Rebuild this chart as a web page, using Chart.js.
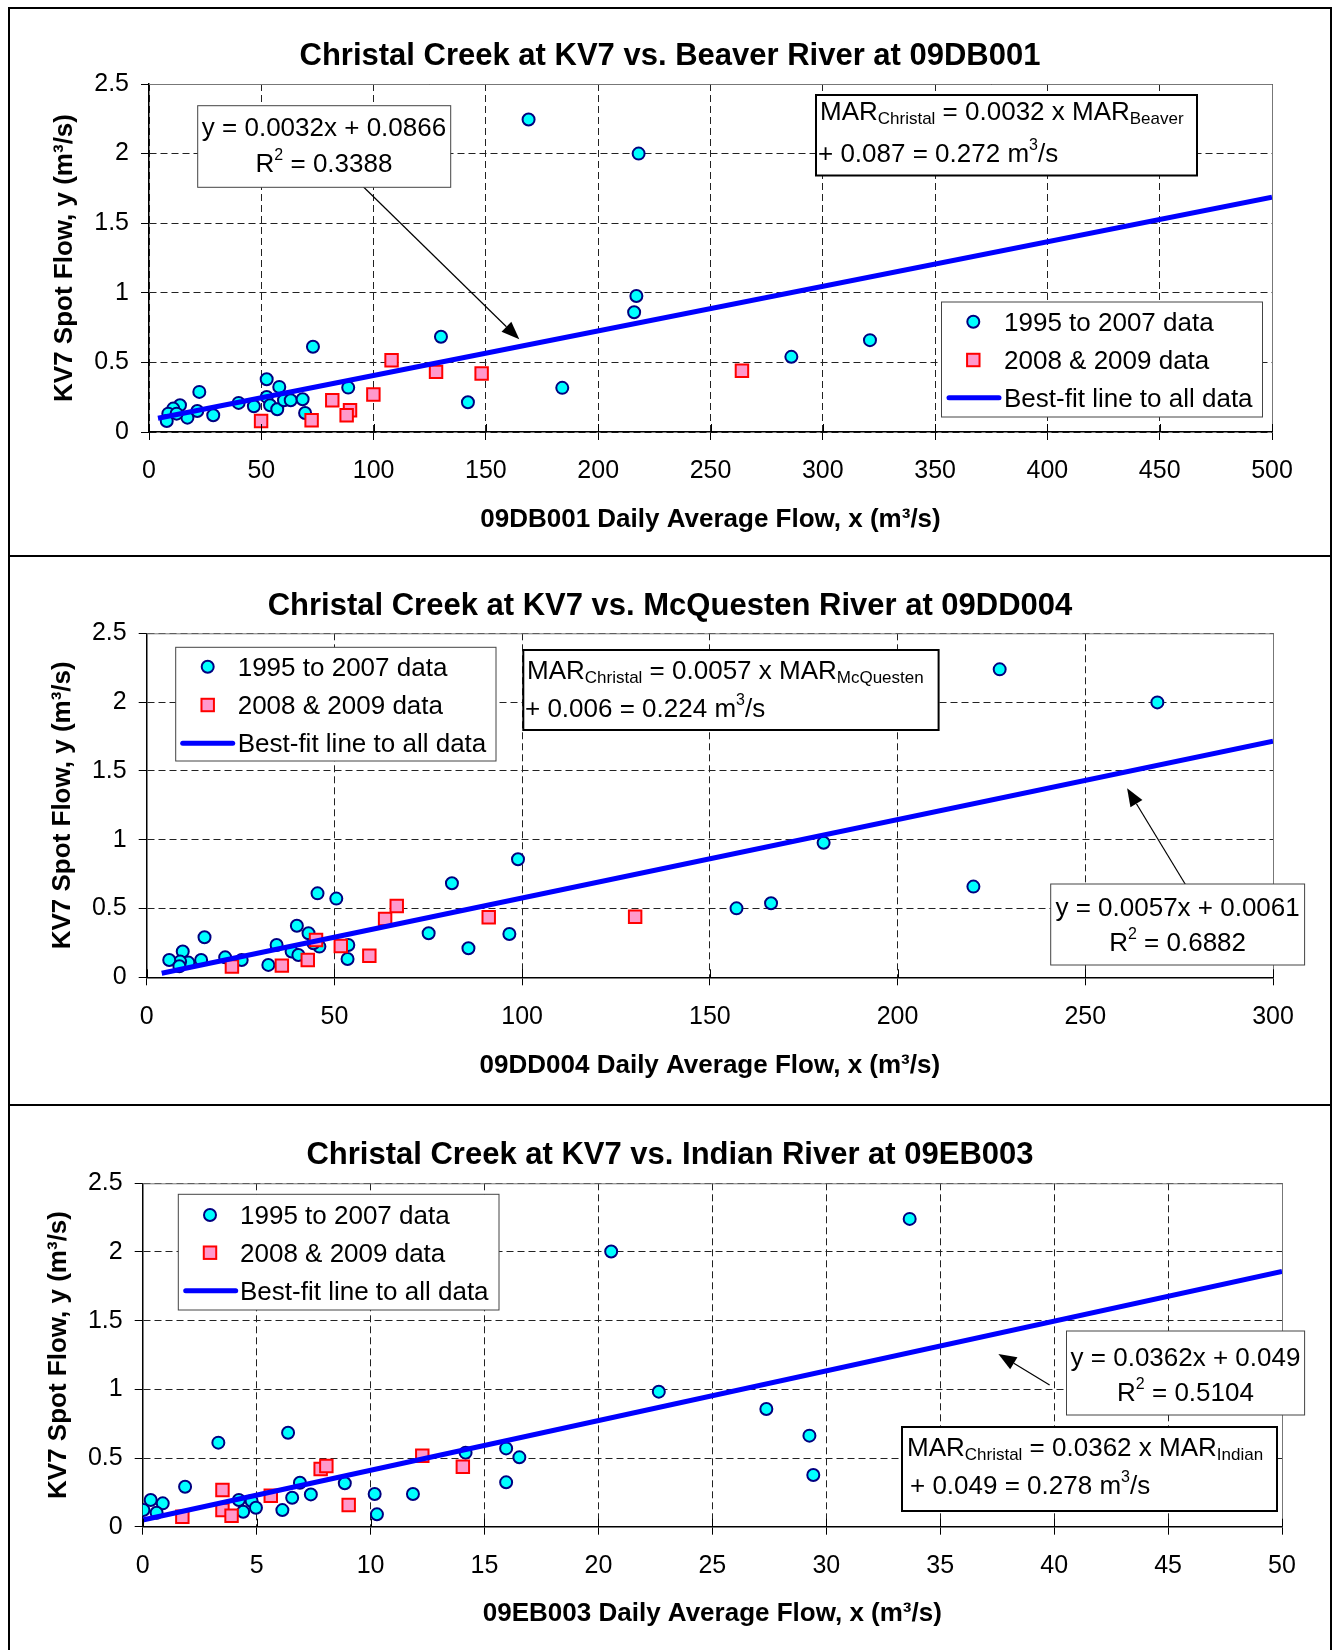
<!DOCTYPE html>
<html lang="en">
<head>
    <meta charset="UTF-8">
    <title>Christal Creek at KV7 - regional flow regressions</title>
    <script src="https://cdn.jsdelivr.net/npm/chart.js"></script>
    <style>
        body { margin: 0; background: #fff; }
        #frame { position: absolute; left: 8px; top: 7px; width: 1320px; height: 1650px;
                 border: 2px solid #000; border-bottom: none; }
        .sep { position: absolute; left: 8px; width: 1324px; height: 2px; background: #000; }
        canvas { position: absolute; left: 10px; }
    </style>
</head>
<body>
<div id="frame"></div>
<div class="sep" style="top:555px"></div>
<div class="sep" style="top:1104px"></div>

<canvas id="beaverChart" width="1320" height="546" style="top:9px"></canvas>
<canvas id="mcqChart" width="1320" height="547" style="top:557px"></canvas>
<canvas id="indianChart" width="1320" height="544" style="top:1106px"></canvas>

<script>
    // ---- data ----
    const seriesLabels = ['1995 to 2007 data', '2008 & 2009 data', 'Best-fit line to all data'];
    const yTicks = [0, 0.5, 1, 1.5, 2, 2.5];

    // Beaver River at 09DB001
    const beaverTicksX = [0, 50, 100, 150, 200, 250, 300, 350, 400, 450, 500];
    const beaverOldX = [169, 218, 217, 216, 286, 321, 184, 142, 130, 73, 22.4, 52.4, 58, 88.7, 39.9, 46.7,
        52.4, 53.9, 57.1, 60.1, 63.1, 68.4, 69.5, 28.6, 21.5, 17.1, 13.8, 10.8, 8.6, 7.9, 12.3];
    const beaverOldY = [2.245, 2.0, 0.977, 0.86, 0.54, 0.66, 0.317, 0.214, 0.684, 0.612, 0.288, 0.379, 0.324, 0.319, 0.209, 0.185,
        0.252, 0.192, 0.163, 0.228, 0.228, 0.235, 0.137, 0.12, 0.151, 0.103, 0.192, 0.168, 0.132, 0.079, 0.132];
    const beaverNewX = [49.9, 72.4, 81.6, 89.5, 88, 99.9, 108, 127.8, 148.1, 264];
    const beaverNewY = [0.079, 0.084, 0.228, 0.156, 0.12, 0.269, 0.516, 0.432, 0.42, 0.44];
    const beaverFitX = [4, 500];
    const beaverFitY = [0.099, 1.687];

    // McQuesten River at 09DD004
    const mcqTicksX = [0, 50, 100, 150, 200, 250, 300];
    const mcqOldX = [98.9, 81.3, 45.5, 50.5, 15.4, 40, 43.1, 75.1, 96.6, 85.7, 53.7, 53.5, 46, 44.4, 38.6, 40.4,
        34.6, 32.4, 25.3, 20.9, 14.5, 9.6, 11.1, 8.9, 6, 8.7, 227.2, 269.2, 180.3, 220.2, 157.1, 166.3];
    const mcqOldY = [0.858, 0.683, 0.61, 0.572, 0.291, 0.375, 0.32, 0.32, 0.315, 0.211, 0.235, 0.133, 0.223, 0.247, 0.187, 0.162,
        0.235, 0.09, 0.126, 0.145, 0.126, 0.187, 0.107, 0.114, 0.126, 0.08, 2.238, 1.998, 0.978, 0.659, 0.501, 0.538];
    const mcqNewX = [22.7, 36, 42.9, 45.1, 51.7, 59.3, 63.5, 66.6, 91.1, 130.1];
    const mcqNewY = [0.078, 0.085, 0.126, 0.271, 0.228, 0.157, 0.424, 0.518, 0.436, 0.44];
    const mcqFitX = [4, 300];
    const mcqFitY = [0.029, 1.716];

    // Indian River at 09EB003
    const indianTicksX = [0, 5, 10, 15, 20, 25, 30, 35, 40, 45, 50];
    const indianOldX = [6.38, 3.32, 1.86, 0.03, 0.35, 0.88, 0.61, 4.22, 4.41, 4.78, 4.97, 6.13, 6.56, 6.9, 7.38,
        8.87, 10.18, 10.28, 11.86, 14.17, 15.95, 15.95, 16.53, 20.56, 33.66, 22.65, 27.37, 29.26, 29.43];
    const indianOldY = [0.684, 0.612, 0.291, 0.121, 0.194, 0.17, 0.102, 0.194, 0.109, 0.187, 0.138, 0.121, 0.211, 0.32, 0.235,
        0.316, 0.238, 0.09, 0.238, 0.539, 0.57, 0.323, 0.505, 2.003, 2.241, 0.983, 0.857, 0.663, 0.376];
    const indianNewX = [1.74, 3.5, 3.5, 3.9, 5.62, 7.81, 8.06, 9.04, 12.27, 14.05];
    const indianNewY = [0.073, 0.267, 0.121, 0.08, 0.226, 0.42, 0.442, 0.158, 0.517, 0.437];
    const indianFitX = [0, 50];
    const indianFitY = [0.049, 1.859];

    // ---- drawing helpers ----
    const FONT = '"Liberation Sans", Arial, Helvetica, sans-serif';
    const sub = t => ({t: t, k: 'sub'});
    const sup = t => ({t: t, k: 'sup'});

    // text with sub/superscripts, y is the baseline
    function drawParts(ctx, parts, x, y, align) {
        const fonts = {n: '26px ' + FONT, sub: '17px ' + FONT, sup: '16px ' + FONT};
        const shift = {n: 0, sub: 4, sup: -12};
        const items = parts.map(p => typeof p === 'string' ? {t: p, k: 'n'} : p);
        let w = 0;
        items.forEach(it => { ctx.font = fonts[it.k]; it.w = ctx.measureText(it.t).width; w += it.w; });
        let cx = align === 'center' ? x - w / 2 : x;
        ctx.fillStyle = '#000';
        ctx.textAlign = 'left';
        ctx.textBaseline = 'alphabetic';
        items.forEach(it => {
            ctx.font = fonts[it.k];
            ctx.fillText(it.t, cx, y + shift[it.k]);
            cx += it.w;
        });
    }

    function drawBox(ctx, b, color, lw) {
        ctx.fillStyle = '#fff';
        ctx.fillRect(b[0], b[1], b[2] - b[0], b[3] - b[1]);
        ctx.strokeStyle = color;
        ctx.lineWidth = lw;
        ctx.strokeRect(b[0], b[1], b[2] - b[0], b[3] - b[1]);
    }

    function drawArrow(ctx, from, to) {
        const ang = Math.atan2(to[1] - from[1], to[0] - from[0]);
        const len = 18, half = 7;
        const bx = to[0] - len * Math.cos(ang), by = to[1] - len * Math.sin(ang);
        ctx.strokeStyle = '#000';
        ctx.lineWidth = 1.2;
        ctx.beginPath();
        ctx.moveTo(from[0], from[1]);
        ctx.lineTo(bx, by);
        ctx.stroke();
        ctx.fillStyle = '#000';
        ctx.beginPath();
        ctx.moveTo(to[0], to[1]);
        ctx.lineTo(bx + half * Math.sin(ang), by - half * Math.cos(ang));
        ctx.lineTo(bx - half * Math.sin(ang), by + half * Math.cos(ang));
        ctx.closePath();
        ctx.fill();
    }

    // plot frame, inner ticks, legend and the text boxes
    const annotations = {
        id: 'kv7Notes',
        afterDatasetsDraw(chart, args, opts) {
            const ctx = chart.ctx;
            const a = chart.chartArea;
            ctx.save();

            ctx.strokeStyle = '#777';
            ctx.lineWidth = 1;
            ctx.beginPath();
            ctx.moveTo(a.left, a.top + 0.5);
            ctx.lineTo(a.right + 0.5, a.top + 0.5);
            ctx.lineTo(a.right + 0.5, a.bottom);
            ctx.stroke();

            ctx.strokeStyle = '#000';
            ctx.beginPath();
            chart.scales.x.ticks.forEach(t => {
                const px = Math.round(chart.scales.x.getPixelForValue(t.value)) + 0.5;
                ctx.moveTo(px, a.bottom);
                ctx.lineTo(px, a.bottom - 8);
            });
            ctx.stroke();

            if (opts.arrow) drawArrow(ctx, opts.arrow.from, opts.arrow.to);

            const eq = opts.eq;
            drawBox(ctx, eq.box, '#444', 1);
            eq.lines.forEach((ln, i) => drawParts(ctx, ln, eq.cx, eq.base[i], 'center'));

            const mar = opts.mar;
            drawBox(ctx, mar.box, '#000', 2);
            mar.lines.forEach((ln, i) => drawParts(ctx, ln, mar.x[i], mar.base[i], 'left'));

            const lg = opts.legend;
            drawBox(ctx, lg.box, '#444', 1);
            const ds = chart.data.datasets;
            lg.base.forEach((b, i) => {
                const cy = b - 9;
                const d = ds[i];
                ctx.lineWidth = d.borderWidth;
                ctx.strokeStyle = d.borderColor;
                ctx.fillStyle = d.backgroundColor;
                if (i === 0) {
                    ctx.beginPath();
                    ctx.arc(lg.symX, cy, d.pointRadius, 0, Math.PI * 2);
                    ctx.fill();
                    ctx.stroke();
                } else if (i === 1) {
                    const s = d.pointRadius * Math.SQRT1_2;
                    ctx.fillRect(lg.symX - s, cy - s, 2 * s, 2 * s);
                    ctx.strokeRect(lg.symX - s, cy - s, 2 * s, 2 * s);
                } else {
                    ctx.lineCap = 'round';
                    ctx.beginPath();
                    ctx.moveTo(lg.lineX[0], cy);
                    ctx.lineTo(lg.lineX[1], cy);
                    ctx.stroke();
                }
                drawParts(ctx, [d.label], lg.textX, b, 'left');
            });
            ctx.restore();
        }
    };

    function points(xs, ys) {
        return xs.map((x, i) => ({x: x, y: ys[i]}));
    }

    function makeChart(id, g) {
        const fmt = v => String(Math.round(v * 100) / 100);
        return new Chart(document.getElementById(id), {
            type: 'scatter',
            data: {
                datasets: [{
                    label: seriesLabels[0],
                    data: points(g.oldX, g.oldY),
                    pointStyle: 'circle',
                    pointRadius: 6,
                    pointHoverRadius: 6,
                    backgroundColor: '#00FFFF',
                    borderColor: '#000080',
                    borderWidth: 2,
                    order: 2
                }, {
                    label: seriesLabels[1],
                    data: points(g.newX, g.newY),
                    pointStyle: 'rect',
                    pointRadius: 8.8,
                    pointHoverRadius: 8.8,
                    backgroundColor: '#FF99CC',
                    borderColor: '#FF0000',
                    borderWidth: 2,
                    order: 1
                }, {
                    label: seriesLabels[2],
                    data: points(g.fitX, g.fitY),
                    showLine: true,
                    pointRadius: 0,
                    backgroundColor: '#0000FF',
                    borderColor: '#0000FF',
                    borderWidth: 5,
                    order: 0
                }]
            },
            options: {
                responsive: false,
                animation: false,
                events: [],
                layout: {padding: 0},
                scales: {
                    x: {
                        type: 'linear',
                        min: g.ticksX[0],
                        max: g.ticksX[g.ticksX.length - 1],
                        afterBuildTicks: s => { s.ticks = g.ticksX.map(v => ({value: v})); },
                        afterFit: s => { s.height = g.xHeight; },
                        ticks: {autoSkip: false, maxRotation: 0, padding: g.xTickPad, color: '#000',
                                font: {family: FONT, size: 25}, callback: fmt},
                        grid: {color: '#222', lineWidth: 1, tickLength: 8, tickColor: '#000', tickBorderDash: []},
                        border: {display: true, color: '#000', width: 1.5, dash: [7, 4]},
                        title: {display: true, text: g.xTitle, color: '#000',
                                font: {family: FONT, size: 26, weight: 'bold'}, padding: {top: 0, bottom: g.xTitlePad}}
                    },
                    y: {
                        type: 'linear',
                        position: 'left',
                        min: 0,
                        max: 2.5,
                        afterBuildTicks: s => { s.ticks = yTicks.map(v => ({value: v})); },
                        afterFit: s => { s.width = g.yWidth; },
                        ticks: {padding: 12, color: '#000', font: {family: FONT, size: 25}, callback: fmt},
                        grid: {color: '#222', lineWidth: 1, tickLength: 8, tickColor: '#000', tickBorderDash: []},
                        border: {display: true, color: '#000', width: 1.5, dash: [7, 4]},
                        title: {display: true, text: 'KV7 Spot Flow, y (m³/s)', color: '#000',
                                font: {family: FONT, size: 26, weight: 'bold'}, padding: {top: g.yTitlePad, bottom: 0}}
                    },
                    // empty right axis, only reserves the margin right of the plot
                    spacer: {
                        type: 'linear',
                        position: 'right',
                        afterFit: s => { s.width = g.rightPad; },
                        ticks: {display: false},
                        grid: {display: false, drawTicks: false},
                        border: {display: false}
                    }
                },
                plugins: {
                    legend: {display: false},
                    tooltip: {enabled: false},
                    title: {display: true, text: g.title, color: '#000',
                            font: {family: FONT, size: 31, weight: 'bold'}, padding: g.titlePad},
                    kv7Notes: g.notes
                }
            },
            plugins: [annotations]
        });
    }

    makeChart('beaverChart', {
        title: 'Christal Creek at KV7 vs. Beaver River at 09DB001',
        xTitle: '09DB001 Daily Average Flow, x (m³/s)',
        ticksX: beaverTicksX,
        oldX: beaverOldX, oldY: beaverOldY, newX: beaverNewX, newY: beaverNewY,
        fitX: beaverFitX, fitY: beaverFitY,
        yWidth: 139, rightPad: 58, xHeight: 123, xTickPad: 16,
        titlePad: {top: 29.1, bottom: 8.7}, yTitlePad: 39.4, xTitlePad: 19.8,
        notes: {
            legend: {box: [931.5, 293, 1252.5, 408], base: [321.7, 360, 397.7], symX: 963.3, lineX: [939, 989], textX: 994},
            eq: {box: [187.7, 96.7, 440.7, 178.3], cx: 314, base: [127, 162.7],
                 lines: [['y = 0.0032x + 0.0866'], ['R', sup('2'), ' = 0.3388']]},
            mar: {box: [806, 86, 1187, 166.5], x: [810, 808], base: [111, 152.7],
                  lines: [['MAR', sub('Christal'), ' = 0.0032 x MAR', sub('Beaver')], ['+ 0.087 = 0.272 m', sup('3'), '/s']]},
            arrow: {from: [353.3, 177.7], to: [509.3, 330.3]}
        }
    });

    makeChart('mcqChart', {
        title: 'Christal Creek at KV7 vs. McQuesten River at 09DD004',
        xTitle: '09DD004 Daily Average Flow, x (m³/s)',
        ticksX: mcqTicksX,
        oldX: mcqOldX, oldY: mcqOldY, newX: mcqNewX, newY: mcqNewY,
        fitX: mcqFitX, fitY: mcqFitY,
        yWidth: 136.7, rightPad: 57, xHeight: 126.7, xTickPad: 16.7,
        titlePad: {top: 30.4, bottom: 8.7}, yTitlePad: 37.4, xTitlePad: 22.8,
        notes: {
            legend: {box: [165.7, 90.3, 486, 204], base: [118.7, 157, 195.3], symX: 197.7, lineX: [172.7, 222.7], textX: 227.7},
            eq: {box: [1040.7, 327, 1294.6, 408], cx: 1167.6, base: [358.7, 393.7],
                 lines: [['y = 0.0057x + 0.0061'], ['R', sup('2'), ' = 0.6882']]},
            mar: {box: [513.3, 93, 928.6, 173], x: [517, 515], base: [122, 160.3],
                  lines: [['MAR', sub('Christal'), ' = 0.0057 x MAR', sub('McQuesten')], ['+ 0.006 = 0.224 m', sup('3'), '/s']]},
            arrow: {from: [1176.8, 329.7], to: [1117.1, 231.3]}
        }
    });

    makeChart('indianChart', {
        title: 'Christal Creek at KV7 vs. Indian River at 09EB003',
        xTitle: '09EB003 Daily Average Flow, x (m³/s)',
        ticksX: indianTicksX,
        oldX: indianOldX, oldY: indianOldY, newX: indianNewX, newY: indianNewY,
        fitX: indianFitX, fitY: indianFitY,
        yWidth: 132.7, rightPad: 48, xHeight: 123.3, xTickPad: 16,
        titlePad: {top: 30.4, bottom: 9.7}, yTitlePad: 33.4, xTitlePad: 20.4,
        notes: {
            legend: {box: [168.3, 88.3, 489, 204], base: [118, 155.7, 193.7], symX: 200, lineX: [175.7, 225.7], textX: 230},
            eq: {box: [1056.5, 225, 1294.6, 309], cx: 1175.5, base: [259.7, 294.7],
                 lines: [['y = 0.0362x + 0.049'], ['R', sup('2'), ' = 0.5104']]},
            mar: {box: [892, 321, 1267, 405], x: [897, 900], base: [349.7, 388],
                  lines: [['MAR', sub('Christal'), ' = 0.0362 x MAR', sub('Indian')], ['+ 0.049 = 0.278 m', sup('3'), '/s']]},
            arrow: {from: [1039.6, 279], to: [988.4, 248]}
        }
    });
</script>
</body>
</html>
